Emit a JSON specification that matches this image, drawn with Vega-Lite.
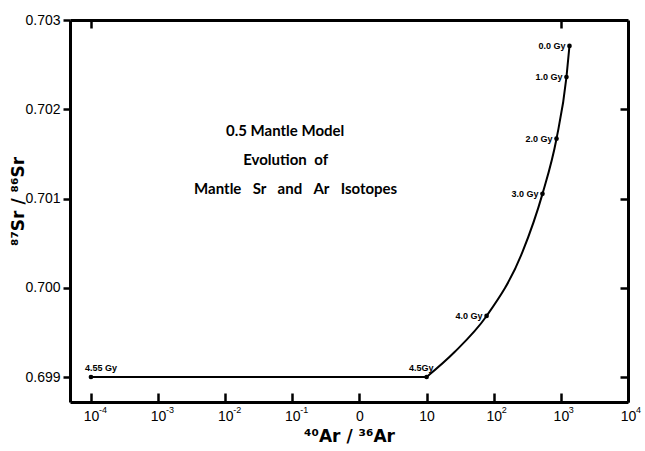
{
  "$schema": "https://vega.github.io/schema/vega-lite/v6.json",
  "width": 558,
  "height": 382,
  "autosize": {"type": "none"},
  "padding": {"left": 70, "top": 20, "right": 17, "bottom": 49},
  "background": "white",
  "config": {
    "view": {"stroke": null},
    "font": "Liberation Sans",
    "axis": {"grid": false, "domainColor": "black", "domainWidth": 3, "tickColor": "black", "tickWidth": 2.5, "labelColor": "black", "titleColor": "black", "labelFont": "Liberation Sans", "titleFont": "DejaVu Sans"}
  },
  "datasets": {
    "flat": [
      {"x": 0.0001, "y": 0.699},
      {"x": 10, "y": 0.699}
    ],
    "curve": [
      {"x": 10, "y": 0.699},
      {"x": 26.1, "y": 0.69928},
      {"x": 78.2, "y": 0.699684},
      {"x": 268, "y": 0.700401},
      {"x": 532, "y": 0.701052},
      {"x": 861, "y": 0.70167},
      {"x": 1211, "y": 0.70236},
      {"x": 1343, "y": 0.70271}
    ],
    "ages": [
      {"age": 4.55, "label": "4.55 Gy", "x": 0.0001, "y": 0.699},
      {"age": 4.5, "label": "4.5Gy", "x": 10, "y": 0.699},
      {"age": 4.0, "label": "4.0 Gy", "x": 78.2, "y": 0.699684},
      {"age": 3.0, "label": "3.0 Gy", "x": 532, "y": 0.701052},
      {"age": 2.0, "label": "2.0 Gy", "x": 861, "y": 0.70167},
      {"age": 1.0, "label": "1.0 Gy", "x": 1211, "y": 0.70236},
      {"age": 0.0, "label": "0.0 Gy", "x": 1343, "y": 0.70271}
    ],
    "exps": [
      {"v": 0.0001, "e": "-4"},
      {"v": 0.001, "e": "-3"},
      {"v": 0.01, "e": "-2"},
      {"v": 0.1, "e": "-1"},
      {"v": 100, "e": "2"},
      {"v": 1000, "e": "3"},
      {"v": 10000, "e": "4"}
    ],
    "note": [
      {"text": "0.5 Mantle Model", "x": 0.078, "y": 0.701758},
      {"text": "Evolution\u2002of", "x": 0.0794, "y": 0.701433},
      {"text": "Mantle\u2003Sr\u2003and\u2003Ar\u2003Isotopes", "x": 0.112, "y": 0.701108}
    ]
  },
  "resolve": {"axis": {"x": "independent", "y": "independent"}},
  "layer": [
    {
      "data": {"name": "flat"},
      "mark": {"type": "line", "color": "black", "strokeWidth": 2},
      "encoding": {
        "x": {"field": "x", "type": "quantitative",
          "scale": {"type": "log", "domain": [0.0000487, 10000], "nice": false},
          "axis": {"orient": "bottom", "values": [0.0001, 0.001, 0.01, 0.1, 1, 10, 100, 1000, 10000],
            "labelExpr": "datum.value == 1 ? '0' : '10'",
            "tickSize": -9, "labelPadding": 16, "labelFontSize": 14, "labelFlush": false,
            "title": "⁴⁰Ar / ³⁶Ar", "titleFontSize": 17, "titleFontWeight": "bold", "titlePadding": 5}},
        "y": {"field": "y", "type": "quantitative",
          "scale": {"domain": [0.69872, 0.703], "nice": false, "zero": false},
          "axis": {"orient": "left", "values": [0.699, 0.7, 0.701, 0.702, 0.703], "format": ".3f",
            "tickSize": 7, "labelPadding": 3, "labelFontSize": 14, "labelFlush": false,
            "title": "⁸⁷Sr / ⁸⁶Sr", "titleFontSize": 17, "titleFontWeight": "bold",
            "titleX": -52, "titleY": 181, "titleAlign": "center", "titleBaseline": "middle", "titleAngle": -90}}
      }
    },
    {
      "data": {"name": "curve"},
      "mark": {"type": "line", "color": "black", "strokeWidth": 2, "interpolate": "monotone"},
      "encoding": {
        "x": {"field": "x", "type": "quantitative", "axis": null},
        "y": {"field": "y", "type": "quantitative", "axis": null}
      }
    },
    {
      "data": {"name": "ages"},
      "mark": {"type": "point", "filled": true, "color": "black", "size": 22, "opacity": 1},
      "encoding": {
        "x": {"field": "x", "type": "quantitative",
          "axis": {"orient": "top", "values": [0.0001, 1000], "labels": false, "tickSize": -8, "title": null}},
        "y": {"field": "y", "type": "quantitative",
          "axis": {"orient": "right", "values": [0.699, 0.7, 0.701, 0.702], "labels": false, "tickSize": -8, "title": null}}
      }
    },
    {
      "data": {"name": "ages"},
      "transform": [{"filter": "datum.age <= 4"}],
      "mark": {"type": "text", "align": "right", "baseline": "middle", "dx": -4, "fontSize": 9, "fontWeight": "bold", "color": "black"},
      "encoding": {
        "x": {"field": "x", "type": "quantitative", "axis": null},
        "y": {"field": "y", "type": "quantitative", "axis": null},
        "text": {"field": "label"}
      }
    },
    {
      "data": {"name": "ages"},
      "transform": [{"filter": "datum.age == 4.55"}],
      "mark": {"type": "text", "align": "left", "baseline": "middle", "dx": -6, "dy": -9, "fontSize": 9, "fontWeight": "bold", "color": "black"},
      "encoding": {
        "x": {"field": "x", "type": "quantitative", "axis": null},
        "y": {"field": "y", "type": "quantitative", "axis": null},
        "text": {"field": "label"}
      }
    },
    {
      "data": {"name": "ages"},
      "transform": [{"filter": "datum.age == 4.5"}],
      "mark": {"type": "text", "align": "right", "baseline": "middle", "dx": 7, "dy": -9, "fontSize": 9, "fontWeight": "bold", "color": "black"},
      "encoding": {
        "x": {"field": "x", "type": "quantitative", "axis": null},
        "y": {"field": "y", "type": "quantitative", "axis": null},
        "text": {"field": "label"}
      }
    },
    {
      "data": {"name": "exps"},
      "mark": {"type": "text", "align": "left", "baseline": "middle", "dx": 8, "dy": 8, "fontSize": 9, "color": "black"},
      "encoding": {
        "x": {"field": "v", "type": "quantitative", "axis": null},
        "y": {"datum": 0.69872, "type": "quantitative", "axis": null},
        "text": {"field": "e"}
      }
    },
    {
      "data": {"name": "note"},
      "mark": {"type": "text", "align": "center", "baseline": "middle", "fontSize": 15, "font": "Lato", "fontWeight": "bold", "color": "black"},
      "encoding": {
        "x": {"field": "x", "type": "quantitative", "axis": null},
        "y": {"field": "y", "type": "quantitative", "axis": null},
        "text": {"field": "text"}
      }
    }
  ]
}
